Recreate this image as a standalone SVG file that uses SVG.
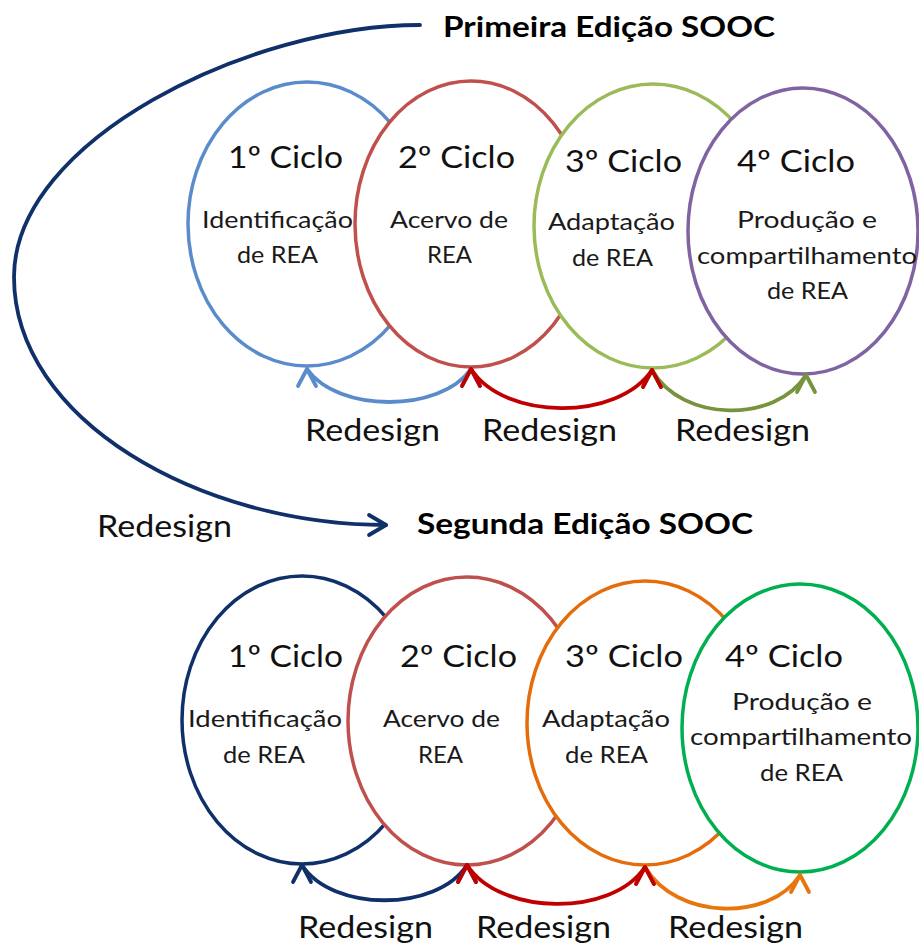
<svg xmlns="http://www.w3.org/2000/svg" width="919" height="947" viewBox="0 0 919 947">
<style>
  .cyc { fill: #ffffff; stroke-width: 3.5; }
  .t-main { font-family: Lato, "Liberation Sans", sans-serif; font-size: 30px; fill: #111111; }
  .t-sub { font-family: Lato, "Liberation Sans", sans-serif; font-size: 23px; fill: #1a1a1a; }
  .t-title { font-family: Lato, "Liberation Sans", sans-serif; font-size: 29px; font-weight: bold; fill: #000000; }
  .t-lbl { font-family: Lato, "Liberation Sans", sans-serif; font-size: 30px; fill: #111111; }
  .arc { fill: none; stroke-width: 3.8; stroke-linecap: round; }
</style>
<defs>
  <marker id="h-blue" viewBox="-22 -14 26 28" refX="0" refY="0" markerWidth="26" markerHeight="28" markerUnits="userSpaceOnUse" orient="270" overflow="visible"><path d="M-17,-9 L0,0 L-17,9" fill="none" stroke="#5A8BCB" stroke-width="3.8" stroke-linecap="round" stroke-linejoin="round"/></marker>
  <marker id="h-red" viewBox="-22 -14 26 28" refX="0" refY="0" markerWidth="26" markerHeight="28" markerUnits="userSpaceOnUse" orient="270" overflow="visible"><path d="M-17,-9 L0,0 L-17,9" fill="none" stroke="#C00000" stroke-width="3.8" stroke-linecap="round" stroke-linejoin="round"/></marker>
  <marker id="h-olive" viewBox="-22 -14 26 28" refX="0" refY="0" markerWidth="26" markerHeight="28" markerUnits="userSpaceOnUse" orient="270" overflow="visible"><path d="M-17,-9 L0,0 L-17,9" fill="none" stroke="#77933C" stroke-width="3.8" stroke-linecap="round" stroke-linejoin="round"/></marker>
  <marker id="h-navy" viewBox="-22 -14 26 28" refX="0" refY="0" markerWidth="26" markerHeight="28" markerUnits="userSpaceOnUse" orient="270" overflow="visible"><path d="M-17,-9 L0,0 L-17,9" fill="none" stroke="#10306A" stroke-width="3.8" stroke-linecap="round" stroke-linejoin="round"/></marker>
  <marker id="h-orange" viewBox="-22 -14 26 28" refX="0" refY="0" markerWidth="26" markerHeight="28" markerUnits="userSpaceOnUse" orient="270" overflow="visible"><path d="M-17,-9 L0,0 L-17,9" fill="none" stroke="#E8760F" stroke-width="3.8" stroke-linecap="round" stroke-linejoin="round"/></marker>
  <marker id="h-big" viewBox="-22 -14 26 28" refX="0" refY="0" markerWidth="26" markerHeight="28" markerUnits="userSpaceOnUse" orient="auto" overflow="visible"><path d="M-17,-10 L0,0 L-17,10" fill="none" stroke="#10306A" stroke-width="3.8" stroke-linecap="round" stroke-linejoin="round"/></marker>
</defs>
<rect x="0" y="0" width="919" height="947" fill="#ffffff"/>

<!-- Edition 1 -->
<g id="title-1"><text class="t-title" x="443" y="37" textLength="332" lengthAdjust="spacingAndGlyphs">Primeira Edição SOOC</text></g>
<g id="e1-c1">
  <ellipse class="cyc" cx="307" cy="224" rx="119" ry="142" stroke="#5A8BCB"/>
  <text class="t-main" x="228" y="168" textLength="115" lengthAdjust="spacingAndGlyphs">1º Ciclo</text>
  <text class="t-sub" x="202" y="228" textLength="151" lengthAdjust="spacingAndGlyphs">Identificação</text>
  <text class="t-sub" x="237" y="263" textLength="81" lengthAdjust="spacingAndGlyphs">de REA</text>
</g>
<g id="e1-c2">
  <ellipse class="cyc" cx="471" cy="224" rx="116" ry="143" stroke="#C0504D"/>
  <text class="t-main" x="398" y="168" textLength="117" lengthAdjust="spacingAndGlyphs">2º Ciclo</text>
  <text class="t-sub" x="390" y="228" textLength="118" lengthAdjust="spacingAndGlyphs">Acervo de</text>
  <text class="t-sub" x="427" y="263" textLength="45" lengthAdjust="spacingAndGlyphs">REA</text>
</g>
<g id="e1-c3">
  <ellipse class="cyc" cx="653" cy="226" rx="119" ry="142" stroke="#9BBB59"/>
  <text class="t-main" x="565" y="172" textLength="117" lengthAdjust="spacingAndGlyphs">3º Ciclo</text>
  <text class="t-sub" x="548" y="230" textLength="127" lengthAdjust="spacingAndGlyphs">Adaptação</text>
  <text class="t-sub" x="572" y="266" textLength="81" lengthAdjust="spacingAndGlyphs">de REA</text>
</g>
<g id="e1-c4">
  <ellipse class="cyc" cx="803" cy="231" rx="115" ry="143" stroke="#8064A2"/>
  <text class="t-main" x="737" y="172" textLength="118" lengthAdjust="spacingAndGlyphs">4º Ciclo</text>
  <text class="t-sub" x="737" y="228" textLength="140" lengthAdjust="spacingAndGlyphs">Produção e</text>
  <text class="t-sub" x="697" y="264" textLength="220" lengthAdjust="spacingAndGlyphs">compartilhamento</text>
  <text class="t-sub" x="767" y="299" textLength="81" lengthAdjust="spacingAndGlyphs">de REA</text>
</g>

<!-- Edition 2 -->
<g id="title-2"><text class="t-title" x="417" y="534" textLength="336" lengthAdjust="spacingAndGlyphs">Segunda Edição SOOC</text></g>
<g id="e2-c1">
  <ellipse class="cyc" cx="302" cy="720" rx="120" ry="144" stroke="#10306A"/>
  <text class="t-main" x="228" y="667" textLength="115" lengthAdjust="spacingAndGlyphs">1º Ciclo</text>
  <text class="t-sub" x="188" y="727" textLength="154" lengthAdjust="spacingAndGlyphs">Identificação</text>
  <text class="t-sub" x="223" y="763" textLength="82" lengthAdjust="spacingAndGlyphs">de REA</text>
</g>
<g id="e2-c2">
  <ellipse class="cyc" cx="467" cy="721" rx="119" ry="144" stroke="#C0504D"/>
  <text class="t-main" x="400" y="667" textLength="117" lengthAdjust="spacingAndGlyphs">2º Ciclo</text>
  <text class="t-sub" x="383" y="727" textLength="117" lengthAdjust="spacingAndGlyphs">Acervo de</text>
  <text class="t-sub" x="418" y="763" textLength="45" lengthAdjust="spacingAndGlyphs">REA</text>
</g>
<g id="e2-c3">
  <ellipse class="cyc" cx="645" cy="723" rx="118" ry="142" stroke="#E46C0A"/>
  <text class="t-main" x="565" y="667" textLength="118" lengthAdjust="spacingAndGlyphs">3º Ciclo</text>
  <text class="t-sub" x="542" y="727" textLength="128" lengthAdjust="spacingAndGlyphs">Adaptação</text>
  <text class="t-sub" x="565" y="763" textLength="83" lengthAdjust="spacingAndGlyphs">de REA</text>
</g>
<g id="e2-c4">
  <ellipse class="cyc" cx="800" cy="728" rx="118" ry="144" stroke="#00B050"/>
  <text class="t-main" x="725" y="667" textLength="118" lengthAdjust="spacingAndGlyphs">4º Ciclo</text>
  <text class="t-sub" x="732" y="710" textLength="140" lengthAdjust="spacingAndGlyphs">Produção e</text>
  <text class="t-sub" x="690" y="745" textLength="222" lengthAdjust="spacingAndGlyphs">compartilhamento</text>
  <text class="t-sub" x="760" y="781" textLength="83" lengthAdjust="spacingAndGlyphs">de REA</text>
</g>

<!-- Connectors -->
<g id="connectors">
  <path class="arc" stroke="#10306A" d="M420,25 C250,25 14,140 14,277 C14,420 200,525 386,525" marker-end="url(#h-big)"/>
  <path class="arc" stroke="#5A8BCB" d="M307,369 C338,413 440,413 471,369" marker-start="url(#h-blue)" marker-end="url(#h-blue)"/>
  <path class="arc" stroke="#77933C" d="M652,370 C682,423 776,423 806,375" marker-start="url(#h-olive)" marker-end="url(#h-olive)"/>
  <path class="arc" stroke="#C00000" d="M471,369 C505,421 618,421 652,370" marker-start="url(#h-red)" marker-end="url(#h-red)"/>
  <path class="arc" stroke="#10306A" d="M302,865 C332,912 437,912 467,865" marker-start="url(#h-navy)" marker-end="url(#h-navy)"/>
  <path class="arc" stroke="#E8760F" d="M645,867 C676,920 770,922 800,875" marker-start="url(#h-orange)" marker-end="url(#h-orange)"/>
  <path class="arc" stroke="#C00000" d="M467,865 C500,916 612,917 645,867" marker-start="url(#h-red)" marker-end="url(#h-red)"/>
</g>

<!-- Connector labels -->
<g id="labels">
  <text class="t-lbl" x="305" y="441" textLength="135" lengthAdjust="spacingAndGlyphs">Redesign</text>
  <text class="t-lbl" x="482" y="441" textLength="135" lengthAdjust="spacingAndGlyphs">Redesign</text>
  <text class="t-lbl" x="675" y="441" textLength="135" lengthAdjust="spacingAndGlyphs">Redesign</text>
  <text class="t-lbl" x="97" y="537" textLength="135" lengthAdjust="spacingAndGlyphs">Redesign</text>
  <text class="t-lbl" x="298" y="938" textLength="135" lengthAdjust="spacingAndGlyphs">Redesign</text>
  <text class="t-lbl" x="476" y="938" textLength="135" lengthAdjust="spacingAndGlyphs">Redesign</text>
  <text class="t-lbl" x="668" y="938" textLength="135" lengthAdjust="spacingAndGlyphs">Redesign</text>
</g>
</svg>
